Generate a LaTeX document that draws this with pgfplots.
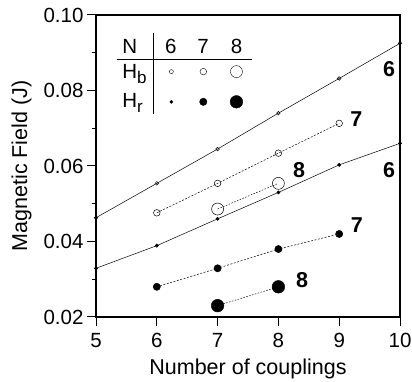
\documentclass[border=0pt]{standalone}
\usepackage{fontspec}
\setmainfont{Liberation Sans}
\usepackage{pgfplots}
\pgfplotsset{compat=1.18}

\begin{document}
\begin{tikzpicture}
\begin{axis}[name=ax, scale only axis, width=304pt, height=302pt,
 xmin=5, xmax=10, ymin=0.02, ymax=0.10,
 xtick={5,6,7,8,9,10}, ytick={0.02,0.04,0.06,0.08,0.10},
 minor ytick={0.03,0.05,0.07,0.09},
 axis line style={line width=1.2pt},
 tick style={line width=1pt, black},
 tick align=outside, major tick length=9pt, minor tick length=4pt,
 xtick pos=bottom, ytick pos=left,
 /pgf/number format/assume math mode=true,
 yticklabel style={/pgf/number format/fixed, /pgf/number format/fixed zerofill, /pgf/number format/precision=2},
 xticklabel style={yshift=-4pt},
 ticklabel style={font=\fontsize{20.5}{24}\selectfont},
 xlabel={Number of couplings}, ylabel={Magnetic Field (J)},
 xlabel style={yshift=-4pt},
 ylabel style={yshift=5pt},
 label style={font=\fontsize{21.5}{25}\selectfont},
 clip=false,
]
% H_b series
\addplot[black, line width=0.5pt, mark=o, mark size=1.8pt, mark options={solid}] coordinates {(5,0.0463)(6,0.0554)(7,0.0645)(8,0.074)(9,0.0832)(10,0.0925)};
\addplot[black, line width=0.5pt, dash pattern=on 2pt off 1.5pt, mark=o, mark size=3.3pt, mark options={solid}] coordinates {(6,0.0476)(7,0.0554)(8,0.0634)(9,0.0713)};
\addplot[black, line width=0.5pt, dash pattern=on 1.5pt off 1.5pt, mark=o, mark size=6pt, mark options={solid}] coordinates {(7,0.0486)(8,0.0554)};
% H_r series
\addplot[black, line width=0.5pt, mark=*, mark size=1.6pt, mark options={solid}] coordinates {(5,0.0329)(6,0.0389)(7,0.046)(8,0.053)(9,0.0603)(10,0.066)};
\addplot[black, line width=0.5pt, dash pattern=on 2pt off 1.5pt, mark=*, mark size=3.6pt, mark options={solid}] coordinates {(6,0.028)(7,0.0329)(8,0.038)(9,0.042)};
\addplot[black, line width=0.5pt, dash pattern=on 1.5pt off 1.5pt, mark=*, mark size=6.3pt, mark options={solid}] coordinates {(7,0.023)(8,0.028)};
% legend table markers
\addplot[black, only marks, mark=o, mark size=2pt] coordinates {(6.24,0.085)};
\addplot[black, only marks, mark=o, mark size=3.3pt] coordinates {(6.765,0.085)};
\addplot[black, only marks, mark=o, mark size=6pt] coordinates {(7.31,0.085)};
\addplot[black, only marks, mark=*, mark size=1.6pt] coordinates {(6.24,0.077)};
\addplot[black, only marks, mark=*, mark size=3.7pt] coordinates {(6.765,0.077)};
\addplot[black, only marks, mark=*, mark size=6.3pt] coordinates {(7.31,0.077)};
% legend table text and rules
\draw[line width=1pt] (axis cs:5.345,0.0883) -- (axis cs:7.566,0.0883);
\draw[line width=1pt] (axis cs:5.94,0.0952) -- (axis cs:5.94,0.0738);
\node[anchor=base west, inner sep=0pt, font=\fontsize{20.5}{24}\selectfont] at (axis cs:5.43,0.0897) {N};
\node[anchor=base, inner sep=0pt, font=\fontsize{20.5}{24}\selectfont] at (axis cs:6.23,0.0897) {6};
\node[anchor=base, inner sep=0pt, font=\fontsize{20.5}{24}\selectfont] at (axis cs:6.76,0.0897) {7};
\node[anchor=base, inner sep=0pt, font=\fontsize{20.5}{24}\selectfont] at (axis cs:7.31,0.0897) {8};
\node[anchor=base west, inner sep=0pt, font=\fontsize{20.5}{24}\selectfont] at (axis cs:5.43,0.0833) {H\raisebox{-5pt}{\fontsize{17}{17}\selectfont b}};
\node[anchor=base west, inner sep=0pt, font=\fontsize{20.5}{24}\selectfont] at (axis cs:5.43,0.0754) {H\raisebox{-5pt}{\fontsize{17}{17}\selectfont r}};
% series labels
\node[font=\fontsize{21.5}{24}\selectfont\bfseries] at (axis cs:9.82,0.0858) {6};
\node[font=\fontsize{21.5}{24}\selectfont\bfseries] at (axis cs:9.28,0.0724) {7};
\node[font=\fontsize{21.5}{24}\selectfont\bfseries] at (axis cs:8.34,0.0589) {8};
\node[font=\fontsize{21.5}{24}\selectfont\bfseries] at (axis cs:9.82,0.0589) {6};
\node[font=\fontsize{21.5}{24}\selectfont\bfseries] at (axis cs:9.29,0.0444) {7};
\node[font=\fontsize{21.5}{24}\selectfont\bfseries] at (axis cs:8.39,0.0298) {8};
\end{axis}
\pgfresetboundingbox
\path ([shift={(-96pt,-65pt)}]ax.south west) rectangle ([shift={(12pt,15pt)}]ax.north east);
\end{tikzpicture}
\end{document}
